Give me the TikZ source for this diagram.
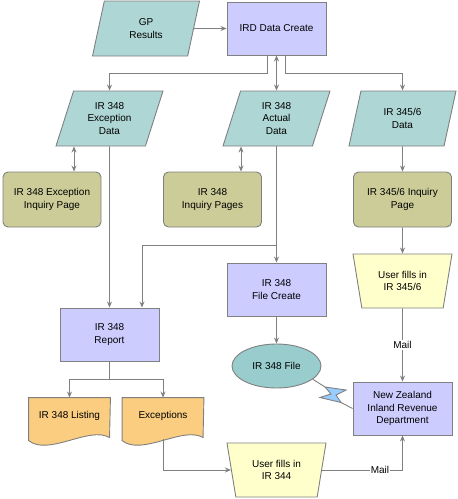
\documentclass[tikz,border=0pt]{standalone}
\usepackage{fontspec}
\setmainfont{Liberation Sans}
\usetikzlibrary{arrows.meta}
\usetikzlibrary{backgrounds}
\usetikzlibrary{calc}
\usetikzlibrary{shapes.geometric}
\definecolor{datafill}{RGB}{174,214,212}
\definecolor{procfill}{RGB}{204,204,255}
\definecolor{pagefill}{RGB}{204,204,153}
\definecolor{userfill}{RGB}{255,255,204}
\definecolor{docfill}{RGB}{250,205,128}
\definecolor{filefill}{RGB}{153,204,204}
\definecolor{boltfill}{RGB}{153,204,255}
\definecolor{edgegray}{RGB}{128,128,128}

\begin{document}
\begin{tikzpicture}[x=1pt, y=-1pt,
    font=\fontsize{10}{12.3}\selectfont,
    every node/.style={draw=edgegray, line width=0.9pt, align=center, inner sep=3pt},
    data/.style={trapezium, trapezium left angle=65, trapezium right angle=115,
                 trapezium stretches body, minimum width=107pt, minimum height=55pt, fill=datafill},
    proc/.style={rectangle, minimum width=99pt, minimum height=53pt, fill=procfill},
    page/.style={rectangle, rounded corners=5pt, minimum width=98pt, minimum height=55pt, fill=pagefill},
    user/.style={trapezium, trapezium left angle=109, trapezium right angle=109,
                 trapezium stretches body, minimum width=99pt, minimum height=54pt, fill=userfill},
    doc/.style={rectangle, draw=none, inner sep=0pt, minimum width=81pt, minimum height=36pt},
    file/.style={ellipse, inner sep=0pt, minimum width=89pt, minimum height=44pt, fill=filefill},
    mail/.style={draw=none, fill=white, text=black, inner sep=1pt}]
\useasboundingbox (0,0) rectangle (458,499);

	\node[data] (gp) at (146,28.5) {GP\\Results};
	\node[proc] (ird) at (276.5,28.5) {IRD Data Create};
	\node[data] (exdata) at (109.5,118.5) {IR 348\\Exception\\Data};
	\node[data] (actdata) at (276.5,118.5) {IR 348\\Actual\\Data};
	\node[data] (data3456) at (402.5,118.5) {IR 345/6\\Data};
	\node[page] (expage) at (52,199.5) {IR 348 Exception\\Inquiry Page};
	\node[page] (inqpages) at (212.5,199.5) {IR 348\\Inquiry Pages};
	\node[page] (page3456) at (402.5,199.5) {IR 345/6 Inquiry\\Page};
	\node[proc] (filecreate) at (276.5,289.5) {IR 348\\File Create};
	\node[user] (user3456) at (402.5,281) {User fills in\\IR 345/6};
	\node[proc] (report) at (109.5,334.5) {IR 348\\Report};
	\node[file] (file) at (276.5,366) {IR 348 File};
	\node[proc] (nz) at (402.5,408.5) {New Zealand\\Inland Revenue\\Department};
	\node[doc] (listing) at (69.5,416) {IR 348 Listing};
	\node[doc] (excep) at (163,416) {Exceptions};
	\node[user] (user344) at (276.5,470) {User fills in\\IR 344};

	% document shapes with wavy bottom
	\begin{scope}[on background layer]
		\foreach \dd in {listing, excep}
			\filldraw[fill=docfill, draw=edgegray, line width=0.9pt]
				(\dd.north west) -- ++(0,43) .. controls +(20,16) and +(-20,-12) .. ++(81,-3)
				-- (\dd.north east) -- cycle;
	\end{scope}

	% lightning link
	\coordinate (b1) at (325,387);
	\coordinate (b2) at (346,390);
	\coordinate (b3) at (336,395);
	\coordinate (b4) at (341,402.5);
	\coordinate (b5) at (320,397.5);
	\coordinate (b6) at (331,394);

	\begin{scope}[edgegray, line width=0.9pt, >={Stealth[length=6pt, width=5pt]}]
		\path (gp) edge[->] (ird);
		\path (ird) edge[<->] (actdata);
		\draw[->] ([xshift=-9pt]ird.south) -- ++(0,18) -| (exdata);
		\draw[->] ([xshift=9pt]ird.south) -- ++(0,18) -| (data3456);
		\draw[<->] ([xshift=22pt]expage.north) -- ([xshift=22pt]expage.north |- exdata.south);
		\draw[<->] ([xshift=28.5pt]inqpages.north) -- ([xshift=28.5pt]inqpages.north |- actdata.south);
		\path (data3456) edge[->] (page3456);
		\draw[->] (exdata.south) -- (report.north);
		\draw[->] (actdata.south) -- ++(0,99) -| ([xshift=32.5pt]report.north);
		\path (actdata) edge[->] (filecreate);
		\path (filecreate) edge[->] (file);
		\path (page3456) edge[->] (user3456);
		\path (user3456) edge[->] node[mail]{Mail} (nz);
		\draw[->] (report.south) -- ++(0,18) -| (listing.north);
		\draw[->] (report.south) -- ++(0,18) -| (excep.north);
		\draw[->] ($(excep.south)+(0,5)$) |- (user344);
		\draw[->] (user344) -| node[mail, pos=0.36]{Mail} (nz.south);
		\draw (file.-20) -- (b1);
		\draw (b4) -- (nz.west);
		\filldraw[fill=boltfill] (b1) -- (b2) -- (b3) -- (b4) -- (b5) -- (b6) -- cycle;
	\end{scope}
\end{tikzpicture}
\end{document}
